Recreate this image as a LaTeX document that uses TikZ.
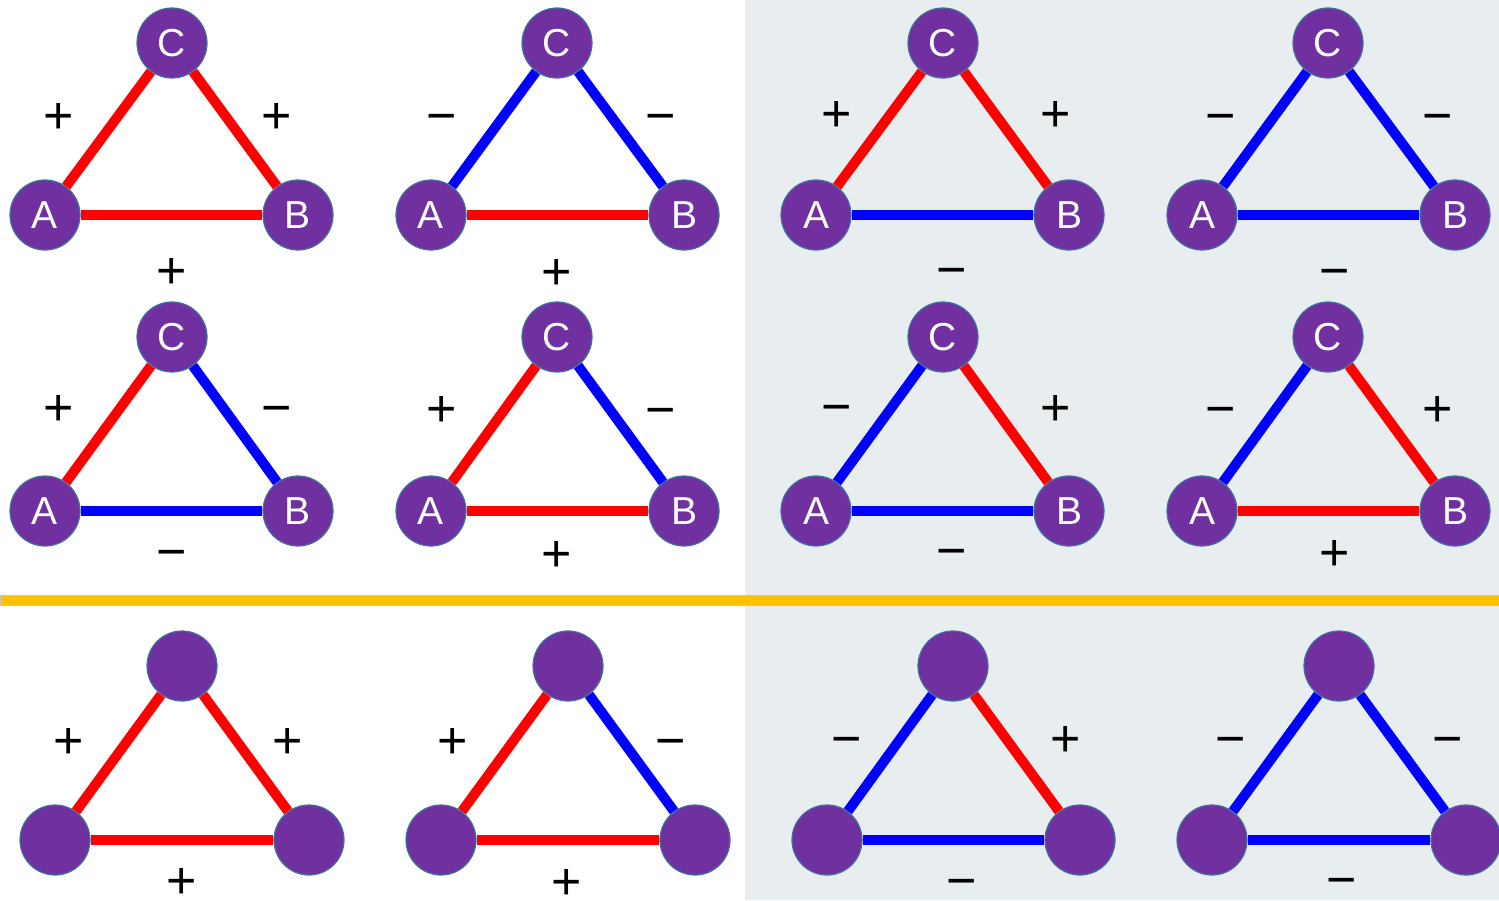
\documentclass[tikz,border=0pt]{standalone}
\usepackage{fontspec}
\setmainfont{Liberation Sans}
\definecolor{vpurple}{HTML}{7030A0}
\definecolor{vborder}{HTML}{41719C}
\definecolor{panel}{HTML}{E8EDF0}
\definecolor{divider}{HTML}{FFC000}
\definecolor{pred}{HTML}{FF0000}
\definecolor{nblue}{HTML}{0000FF}

\begin{document}
\begin{tikzpicture}[x=0.5pt,y=-0.5pt,
  vtx/.style={circle,fill=vpurple,draw=vborder,line width=0.6pt,minimum size=35pt,inner sep=0pt,text=white,font=\fontsize{19.5pt}{21pt}\selectfont},
  redline/.style={pred,line width=5pt},
  blueline/.style={nblue,line width=5pt},
  sgn/.style={inner sep=0pt,text height=18.2pt,text depth=0pt,font=\fontsize{26pt}{28pt}\selectfont}]
\useasboundingbox (0,0) rectangle (1499,900);
\fill[panel] (745,0) rectangle (1499,900);
\filldraw[fill=divider,draw=gray!45,line width=0.4pt] (0,595.5) rectangle (1499,605);
% row 1
\node[vtx] (C1) at (172,43) {C};
\node[vtx] (A1) at (45,215) {A};
\node[vtx] (B1) at (298,215) {B};
\draw[redline] (A1) -- (C1);
\draw[redline] (C1) -- (B1);
\draw[redline] (A1) -- (B1);
\node[sgn] (ac1) at (59,115) {+};
\node[sgn] (cb1) at (277,115) {+};
\node[sgn] (ab1) at (172,270) {+};
\node[vtx] (C2) at (557,43) {C};
\node[vtx] (A2) at (431,215) {A};
\node[vtx] (B2) at (684,215) {B};
\draw[blueline] (A2) -- (C2);
\draw[blueline] (C2) -- (B2);
\draw[redline] (A2) -- (B2);
\node[sgn] (ac2) at (442,115) {−};
\node[sgn] (cb2) at (661,115) {−};
\node[sgn] (ab2) at (557,271) {+};
\node[vtx] (C3) at (943,43) {C};
\node[vtx] (A3) at (816,215) {A};
\node[vtx] (B3) at (1069,215) {B};
\draw[redline] (A3) -- (C3);
\draw[redline] (C3) -- (B3);
\draw[blueline] (A3) -- (B3);
\node[sgn] (ac3) at (837,113) {+};
\node[sgn] (cb3) at (1056,113) {+};
\node[sgn] (ab3) at (952,269) {−};
\node[vtx] (C4) at (1328,43) {C};
\node[vtx] (A4) at (1202,215) {A};
\node[vtx] (B4) at (1455,215) {B};
\draw[blueline] (A4) -- (C4);
\draw[blueline] (C4) -- (B4);
\draw[blueline] (A4) -- (B4);
\node[sgn] (ac4) at (1221,115) {−};
\node[sgn] (cb4) at (1438,115) {−};
\node[sgn] (ab4) at (1335,270) {−};
% row 2
\node[vtx] (C5) at (172,337) {C};
\node[vtx] (A5) at (45,511) {A};
\node[vtx] (B5) at (298,511) {B};
\draw[redline] (A5) -- (C5);
\draw[blueline] (C5) -- (B5);
\draw[blueline] (A5) -- (B5);
\node[sgn] (ac5) at (59,407) {+};
\node[sgn] (cb5) at (277,407) {−};
\node[sgn] (ab5) at (172,551) {−};
\node[vtx] (C6) at (557,337) {C};
\node[vtx] (A6) at (431,511) {A};
\node[vtx] (B6) at (684,511) {B};
\draw[redline] (A6) -- (C6);
\draw[blueline] (C6) -- (B6);
\draw[redline] (A6) -- (B6);
\node[sgn] (ac6) at (442,408) {+};
\node[sgn] (cb6) at (661,409) {−};
\node[sgn] (ab6) at (557,553) {+};
\node[vtx] (C7) at (943,337) {C};
\node[vtx] (A7) at (816,511) {A};
\node[vtx] (B7) at (1069,511) {B};
\draw[blueline] (A7) -- (C7);
\draw[redline] (C7) -- (B7);
\draw[blueline] (A7) -- (B7);
\node[sgn] (ac7) at (837,406) {−};
\node[sgn] (cb7) at (1056,407) {+};
\node[sgn] (ab7) at (952,550) {−};
\node[vtx] (C8) at (1328,337) {C};
\node[vtx] (A8) at (1202,511) {A};
\node[vtx] (B8) at (1455,511) {B};
\draw[blueline] (A8) -- (C8);
\draw[redline] (C8) -- (B8);
\draw[redline] (A8) -- (B8);
\node[sgn] (ac8) at (1221,408) {−};
\node[sgn] (cb8) at (1438,408) {+};
\node[sgn] (ab8) at (1335,552) {+};
% row 3, no letters
\node[vtx] (C9) at (182,666) {};
\node[vtx] (A9) at (55,840) {};
\node[vtx] (B9) at (309,840) {};
\draw[redline] (A9) -- (C9);
\draw[redline] (C9) -- (B9);
\draw[redline] (A9) -- (B9);
\node[sgn] (ac9) at (69,740) {+};
\node[sgn] (cb9) at (288,740) {+};
\node[sgn] (ab9) at (182,880) {+};
\node[vtx] (C10) at (568,666) {};
\node[vtx] (A10) at (441,840) {};
\node[vtx] (B10) at (695,840) {};
\draw[redline] (A10) -- (C10);
\draw[blueline] (C10) -- (B10);
\draw[redline] (A10) -- (B10);
\node[sgn] (ac10) at (453,740) {+};
\node[sgn] (cb10) at (671,740) {−};
\node[sgn] (ab10) at (567,881) {+};
\node[vtx] (C11) at (953,666) {};
\node[vtx] (A11) at (827,840) {};
\node[vtx] (B11) at (1080,840) {};
\draw[blueline] (A11) -- (C11);
\draw[redline] (C11) -- (B11);
\draw[blueline] (A11) -- (B11);
\node[sgn] (ac11) at (847,738) {−};
\node[sgn] (cb11) at (1066,738) {+};
\node[sgn] (ab11) at (962,880) {−};
\node[vtx] (C12) at (1339,666) {};
\node[vtx] (A12) at (1212,840) {};
\node[vtx] (B12) at (1466,840) {};
\draw[blueline] (A12) -- (C12);
\draw[blueline] (C12) -- (B12);
\draw[blueline] (A12) -- (B12);
\node[sgn] (ac12) at (1231,738) {−};
\node[sgn] (cb12) at (1448,738) {−};
\node[sgn] (ab12) at (1342,879) {−};
\end{tikzpicture}
\end{document}
